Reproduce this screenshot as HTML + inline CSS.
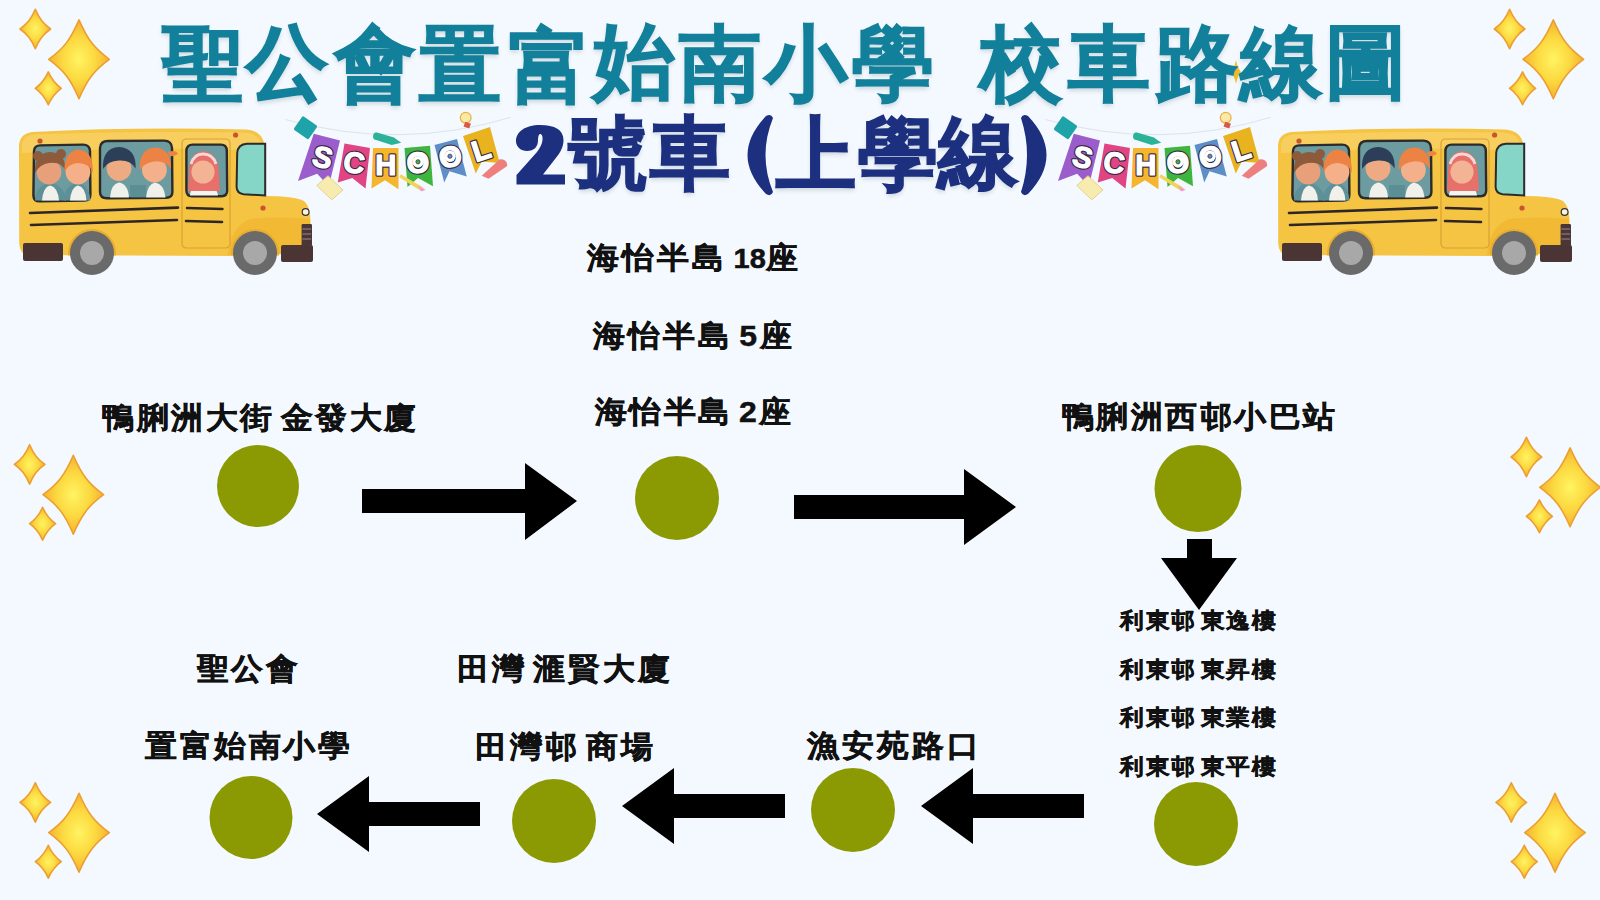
<!DOCTYPE html>
<html><head><meta charset="utf-8">
<style>
html,body{margin:0;padding:0;}
body{width:1600px;height:900px;background:#f3f9fe;position:relative;overflow:hidden;font-family:"Liberation Sans",sans-serif;}
.t{position:absolute;white-space:nowrap;font-weight:700;line-height:1;}
svg{position:absolute;left:0;top:0;}
</style></head><body>
<svg width="1600" height="900" viewBox="0 0 1600 900"><defs>
<radialGradient id="sg" cx="50%" cy="50%" r="60%">
<stop offset="0" stop-color="#fff462"/><stop offset="0.45" stop-color="#fcd940"/><stop offset="1" stop-color="#f2a02a"/>
</radialGradient>
<clipPath id="bodyclip"><rect x="0" y="0" width="1600" height="702"/></clipPath>
<g id="spk"><path d="M0.0,0.0 C4.3,9.8 7.7,14.2 15.3,19.7 C7.7,25.2 4.3,29.5 0.0,39.4 C-4.3,29.5 -7.7,25.2 -15.3,19.7 C-7.7,14.2 -4.3,9.8 0.0,0.0Z" fill="url(#sg)" stroke="#ec9f30" stroke-width="1.6" stroke-linejoin="round"/><path d="M43.7,10.6 C52.2,30.3 58.9,39.0 74.0,50.0 C58.9,61.0 52.2,69.7 43.7,89.4 C35.2,69.7 28.6,61.0 13.4,50.0 C28.6,39.0 35.2,30.3 43.7,10.6Z" fill="url(#sg)" stroke="#ec9f30" stroke-width="1.6" stroke-linejoin="round"/><path d="M13.0,62.6 C16.6,70.8 19.5,74.4 26.0,79.0 C19.5,83.6 16.6,87.2 13.0,95.4 C9.4,87.2 6.5,83.6 0.0,79.0 C6.5,74.4 9.4,70.8 13.0,62.6Z" fill="url(#sg)" stroke="#ec9f30" stroke-width="1.6" stroke-linejoin="round"/></g>
<g id="bus"><path d="M45,170 Q40,95 110,85 Q600,60 1180,72 Q1262,78 1272,150 L1275,405 Q1420,405 1470,430 Q1500,455 1502,520 L1505,690 L1100,705 L90,700 Q48,695 46,640 Z" fill="#f5c443"/>
<path d="M60,160 Q58,105 120,98 Q600,78 1170,88 Q1240,92 1255,140 L1255,180 Q700,150 60,190 Z" fill="#f9d46a" opacity="0.7"/>
<path d="M1090,700 Q1100,560 1200,520 Q1350,505 1500,520 L1505,690 Z" fill="#f2b935"/>
<rect x="860" y="120" width="240" height="545" rx="22" fill="none" stroke="#d9a233" stroke-width="6"/>
<path d="M120,180 Q122,152 152,152 L365,148 Q398,148 400,180 L402,398 Q402,428 372,428 L148,432 Q118,432 117,402 Z" fill="#6c9ba0" stroke="#2c2a2a" stroke-width="12"/>
<path d="M450,165 Q452,130 490,130 L770,128 Q808,128 810,165 L812,385 Q812,414 780,414 L485,416 Q450,416 450,385 Z" fill="#6c9ba0" stroke="#2c2a2a" stroke-width="12"/>
<path d="M882,178 Q884,148 914,148 L1055,148 Q1083,148 1084,178 L1086,378 Q1086,406 1058,406 L910,406 Q882,406 882,378 Z" fill="#6c9ba0" stroke="#2c2a2a" stroke-width="12"/>
<path d="M1136,190 Q1140,146 1185,144 L1276,144 L1276,402 L1168,396 Q1134,392 1133,360 Z" fill="#86d6c8" stroke="#2c2a2a" stroke-width="10"/>
<!-- kids window 1 -->
<path d="M125,428 Q128,350 200,340 Q272,350 280,428 Z" fill="#5e9098"/><path d="M160,428 Q165,360 200,352 Q240,360 245,428 Z" fill="#f1f1ec"/>
<circle cx="195" cy="285" r="62" fill="#e8a07a"/>
<path d="M125,290 Q120,190 200,185 Q280,190 275,275 Q255,230 195,240 Q150,245 125,290Z" fill="#8e5a3c"/>
<circle cx="140" cy="205" r="25" fill="#8e5a3c"/><circle cx="255" cy="195" r="25" fill="#8e5a3c"/>
<path d="M268,428 Q272,350 340,340 Q398,350 402,428 Z" fill="#5e9098"/><path d="M300,428 Q305,360 340,352 Q378,360 382,428 Z" fill="#f1f1ec"/>
<circle cx="340" cy="285" r="62" fill="#f5b08a"/>
<path d="M272,285 Q270,178 345,172 Q418,178 414,290 Q395,238 335,240 Q292,245 272,285Z" fill="#ec8344"/>
<!-- window 2 -->
<path d="M500,412 Q505,345 545,338 Q590,345 595,412 Z" fill="#f1f1ec"/>
<path d="M600,412 L600,350 L680,350 L680,412Z" fill="#5b8f95"/>
<circle cx="545" cy="268" r="62" fill="#eeaa82"/>
<path d="M465,270 Q460,165 545,160 Q632,165 628,268 Q605,225 545,228 Q490,230 465,270Z" fill="#2d3e58"/>
<path d="M680,412 Q688,345 725,338 Q770,345 778,412 Z" fill="#f1f1ec"/>
<circle cx="722" cy="275" r="62" fill="#f3b08a"/>
<path d="M648,275 Q645,168 725,162 Q808,168 805,270 Q780,228 722,232 Q672,238 648,275Z" fill="#ec8344"/>
<path d="M790,185 Q830,170 840,195 Q815,210 795,205Z" fill="#ec8344"/>
<!-- door window kid -->
<path d="M900,402 Q905,345 965,340 Q1030,345 1040,402 Z" fill="#f4f4f0"/>
<path d="M895,300 Q890,190 965,180 Q1045,188 1045,300 L1050,380 L890,380Z" fill="#e7706a"/>
<circle cx="965" cy="285" r="58" fill="#f3b395"/>
<path d="M905,245 Q920,195 965,195 Q1015,195 1030,245" fill="none" stroke="#f4d8d8" stroke-width="14"/>
<!-- stripes -->
<path d="M100,490 L840,463" stroke="#2e2626" stroke-width="13" stroke-linecap="round"/>
<path d="M105,550 L835,525" stroke="#2e2626" stroke-width="13" stroke-linecap="round"/>
<path d="M885,465 L1062,470" stroke="#2e2626" stroke-width="13" stroke-linecap="round"/>
<path d="M880,530 L1060,535" stroke="#2e2626" stroke-width="13" stroke-linecap="round"/>
<!-- lights -->
<circle cx="150" cy="130" r="13" fill="#c8552e"/>
<circle cx="1128" cy="100" r="13" fill="#c8552e"/>
<circle cx="1265" cy="465" r="13" fill="#c8552e"/>
<circle cx="1478" cy="485" r="17" fill="#f6f3e0" stroke="#3a3030" stroke-width="6"/>
<!-- grille -->
<rect x="1458" y="545" width="52" height="108" rx="6" fill="#4a3636"/>
<path d="M1462,570 H1506 M1462,595 H1506 M1462,620 H1506" stroke="#9a8a8a" stroke-width="5"/>
<!-- wheels -->
<g clip-path="url(#bodyclip)"><circle cx="410" cy="690" r="120" fill="#e6ad30"/>
<circle cx="1225" cy="690" r="120" fill="#e6ad30"/></g>
<circle cx="410" cy="690" r="110" fill="#6a6a6a"/>
<circle cx="410" cy="690" r="60" fill="#a8a8a8"/>
<circle cx="1225" cy="690" r="110" fill="#6a6a6a"/>
<circle cx="1225" cy="690" r="60" fill="#a8a8a8"/>
<!-- bumpers -->
<rect x="65" y="640" width="200" height="90" rx="10" fill="#4a3434"/>
<rect x="1355" y="650" width="160" height="85" rx="10" fill="#4a3434"/>
</g>
<g id="ban"><path d="M35,130 Q800,340 1540,115" fill="none" stroke="#c0c6ce" stroke-width="3"/>
<path d="M225,225 L400,270 L325,575 L248,492 L120,540 Z" fill="#9b5ccc"/>
<path d="M430,290 L600,320 L570,590 L482,520 L385,550 Z" fill="#e04482"/>
<path d="M620,320 L790,320 L790,595 L700,535 L610,590 Z" fill="#f5b52c"/>
<path d="M830,320 L1000,305 L1020,575 L920,520 L850,580 Z" fill="#3db53e"/>
<path d="M1030,300 L1180,260 L1245,510 L1130,475 L1095,550 Z" fill="#5d8ec8"/>
<path d="M1220,240 L1400,180 L1465,420 L1345,410 L1305,490 Z" fill="#e9b21f"/>
<g font-family="Liberation Sans, sans-serif" font-weight="700" font-size="195" fill="#3a2a48" stroke="#3a2a48" stroke-width="24" stroke-linejoin="round" text-anchor="middle"><text x="285" y="450" transform="rotate(14 285 380)">S</text><text x="495" y="485" transform="rotate(8 495 415)">C</text><text x="705" y="500">H</text><text x="920" y="485" transform="rotate(-4 920 415)">O</text><text x="1135" y="445" transform="rotate(-14 1135 375)">O</text><text x="1340" y="400" transform="rotate(-18 1340 330)">L</text></g><g font-family="Liberation Sans, sans-serif" font-weight="700" font-size="195" fill="#fff" stroke="#fff" stroke-width="8" stroke-linejoin="round" text-anchor="middle"><text x="285" y="450" transform="rotate(14 285 380)">S</text><text x="495" y="485" transform="rotate(8 495 415)">C</text><text x="705" y="500">H</text><text x="920" y="485" transform="rotate(-4 920 415)">O</text><text x="1135" y="445" transform="rotate(-14 1135 375)">O</text><text x="1340" y="400" transform="rotate(-18 1340 330)">L</text></g>
<circle cx="920" cy="412" r="38" fill="#fff"/><circle cx="920" cy="412" r="14" fill="#3db53e" stroke="#3a2a48" stroke-width="5"/><circle cx="1133" cy="375" r="38" fill="#fff"/><circle cx="1133" cy="375" r="14" fill="#5d8ec8" stroke="#3a2a48" stroke-width="5"/><rect x="110" y="130" width="120" height="110" rx="10" fill="#1ea3a8" transform="rotate(35 170 185)"/>
<path d="M640,215 L760,250 L808,285 L745,300 L625,262 Q610,225 640,215 Z" fill="#2bb39a"/>
<path d="M1345,505 L1465,395 Q1515,390 1515,440 L1390,525 Z" fill="#ee7f7f"/>
<circle cx="1238" cy="118" r="36" fill="#fbe9a8" stroke="#eab040" stroke-width="8"/>
<rect x="1228" y="150" width="40" height="35" fill="#d9584a" transform="rotate(20 1248 168)"/>
<path d="M245,570 L320,505 L420,600 L345,665 Z" fill="#f7ebb0" stroke="#e0cf80" stroke-width="6"/>
<path d="M805,495 L940,575 L970,600 L930,600 L795,515 Z" fill="#f2d35c"/>
<path d="M920,570 L970,600 L940,610 Z" fill="#f39ad0"/>
</g>
</defs><use href="#spk" x="35.3" y="9.3"/><use href="#spk" x="1509.6" y="9.3"/><use href="#spk" x="29.6" y="444.7"/><use href="#spk" x="1526.4" y="437.3"/><use href="#spk" x="35.3" y="782.7"/><use href="#spk" x="1511.3" y="782.7"/><path d="M1236.0,60.0 C1237.4,66.0 1238.5,68.6 1241.0,72.0 C1238.5,75.4 1237.4,78.0 1236.0,84.0 C1234.6,78.0 1233.5,75.4 1231.0,72.0 C1233.5,68.6 1234.6,66.0 1236.0,60.0Z" fill="#f0c030"/><g transform="translate(10,115) scale(0.2)"><use href="#bus"/></g><g transform="translate(1269,115) scale(0.2)"><use href="#bus"/></g><g transform="translate(280,100) scale(0.15)"><use href="#ban"/></g><g transform="translate(1040,100) scale(0.15)"><use href="#ban"/></g></svg>
<svg width="1600" height="900" viewBox="0 0 1600 900"><g fill="#000">
<polygon points="362,489 525,489 525,463 577,501 525,540 525,513 362,513"/>
<polygon points="794,495 964,495 964,469 1016,507 964,545 964,519 794,519"/>
<polygon points="1187,539 1212,539 1212,558 1237,558 1199,610 1161,558 1187,558"/>
<polygon points="1084,794 973,794 973,768 921,806 973,844 973,818 1084,818"/>
<polygon points="785,794 674,794 674,768 622,806 674,844 674,818 785,818"/>
<polygon points="480,802 369,802 369,776 317,814 369,852 369,826 480,826"/>
</g><g fill="#8b9a03">
<circle cx="258" cy="486" r="41"/><circle cx="677" cy="498" r="42"/><circle cx="1198" cy="488.5" r="43.5"/>
<circle cx="1196" cy="824" r="42"/><circle cx="853" cy="810" r="42"/><circle cx="554" cy="821" r="42"/><circle cx="251" cy="817.5" r="41.5"/>
</g>
<g fill="#1d307f">
<path d="M773,118 Q771,113 766,116 Q729,155 766,194 Q771,197 773,192 Q758,155 773,118 Z"/>
<path d="M1021,118 Q1023,113 1028,116 Q1065,155 1028,194 Q1023,197 1021,192 Q1033,155 1021,118 Z"/>
<path transform="translate(505,110) scale(0.1)" d="M115,745 L600,745 L600,645 L380,645 L520,465 C570,400 585,350 585,300 C585,200 500,150 350,150 C200,150 110,220 110,310 C110,370 160,410 220,410 C290,410 330,370 330,300 C330,260 340,240 350,240 C370,240 378,265 375,300 C372,340 350,380 320,420 L115,650 Z"/>
</g></svg>
<div class="t" style="left:587.4px;top:241.9px;font-size:32px;color:#111;letter-spacing:3px;-webkit-text-stroke:0.5px #111;transform:scaleY(0.94);">海怡半島<span style="letter-spacing:0;font-size:22px">&#32;</span><span style="letter-spacing:0;font-size:29px">18</span>座</div>
<div class="t" style="left:593.0px;top:319.5px;font-size:32px;color:#111;letter-spacing:3px;-webkit-text-stroke:0.5px #111;transform:scaleY(0.94);">海怡半島<span style="letter-spacing:0;font-size:22px">&#32;</span>5座</div>
<div class="t" style="left:594.8px;top:396.4px;font-size:32px;color:#111;letter-spacing:2.5px;-webkit-text-stroke:0.5px #111;transform:scaleY(0.94);">海怡半島<span style="letter-spacing:0;font-size:22px">&#32;</span>2座</div>
<div class="t" style="left:102.0px;top:402.2px;font-size:32px;color:#111;letter-spacing:2.5px;-webkit-text-stroke:0.5px #111;transform:scaleY(0.94);">鴨脷洲大街<span style="letter-spacing:0;font-size:22px">&#32;</span>金發大廈</div>
<div class="t" style="left:1061.6px;top:401.0px;font-size:32px;color:#111;letter-spacing:2.5px;-webkit-text-stroke:0.5px #111;transform:scaleY(0.94);">鴨脷洲西邨小巴站</div>
<div class="t" style="left:1120.3px;top:609.9px;font-size:23.5px;color:#111;letter-spacing:1.5px;-webkit-text-stroke:0.5px #111;transform:scaleY(0.93);">利東邨<span style="letter-spacing:0;font-size:15px">&#32;</span>東逸樓</div>
<div class="t" style="left:1120.3px;top:658.5px;font-size:23.5px;color:#111;letter-spacing:1.5px;-webkit-text-stroke:0.5px #111;transform:scaleY(0.93);">利東邨<span style="letter-spacing:0;font-size:15px">&#32;</span>東昇樓</div>
<div class="t" style="left:1120.3px;top:707.4px;font-size:23.5px;color:#111;letter-spacing:1.5px;-webkit-text-stroke:0.5px #111;transform:scaleY(0.93);">利東邨<span style="letter-spacing:0;font-size:15px">&#32;</span>東業樓</div>
<div class="t" style="left:1120.3px;top:756.2px;font-size:23.5px;color:#111;letter-spacing:1.5px;-webkit-text-stroke:0.5px #111;transform:scaleY(0.93);">利東邨<span style="letter-spacing:0;font-size:15px">&#32;</span>東平樓</div>
<div class="t" style="left:196.8px;top:652.9px;font-size:32px;color:#111;letter-spacing:2.5px;-webkit-text-stroke:0.5px #111;transform:scaleY(0.94);">聖公會</div>
<div class="t" style="left:145.2px;top:730.4px;font-size:32px;color:#111;letter-spacing:2.5px;-webkit-text-stroke:0.5px #111;transform:scaleY(0.94);">置富始南小學</div>
<div class="t" style="left:457.0px;top:653.0px;font-size:32px;color:#111;letter-spacing:3px;-webkit-text-stroke:0.5px #111;transform:scaleY(0.94);">田灣<span style="letter-spacing:0;font-size:22px">&#32;</span>滙賢大廈</div>
<div class="t" style="left:474.9px;top:730.5px;font-size:32px;color:#111;letter-spacing:3px;-webkit-text-stroke:0.5px #111;transform:scaleY(0.94);">田灣邨<span style="letter-spacing:0;font-size:22px">&#32;</span>商場</div>
<div class="t" style="left:806.6px;top:729.7px;font-size:32px;color:#111;letter-spacing:3px;-webkit-text-stroke:0.5px #111;transform:scaleY(0.94);">漁安苑路口</div>
<div class="t" style="left:161.8px;top:24.0px;font-size:82px;color:#12809a;-webkit-text-stroke:1.4px #12809a;text-shadow:0 3px 4px rgba(40,60,80,0.18);">聖</div>
<div class="t" style="left:246.2px;top:21.5px;font-size:82px;color:#12809a;-webkit-text-stroke:1.4px #12809a;text-shadow:0 3px 4px rgba(40,60,80,0.18);">公</div>
<div class="t" style="left:333.8px;top:22.5px;font-size:82px;color:#12809a;-webkit-text-stroke:1.4px #12809a;text-shadow:0 3px 4px rgba(40,60,80,0.18);">會</div>
<div class="t" style="left:419.4px;top:24.0px;font-size:82px;color:#12809a;-webkit-text-stroke:1.4px #12809a;text-shadow:0 3px 4px rgba(40,60,80,0.18);">置</div>
<div class="t" style="left:508.7px;top:25.5px;font-size:82px;color:#12809a;-webkit-text-stroke:1.4px #12809a;text-shadow:0 3px 4px rgba(40,60,80,0.18);">富</div>
<div class="t" style="left:592.7px;top:21.0px;font-size:82px;color:#12809a;-webkit-text-stroke:1.4px #12809a;text-shadow:0 3px 4px rgba(40,60,80,0.18);">始</div>
<div class="t" style="left:679.4px;top:23.0px;font-size:82px;color:#12809a;-webkit-text-stroke:1.4px #12809a;text-shadow:0 3px 4px rgba(40,60,80,0.18);">南</div>
<div class="t" style="left:764.5px;top:22.5px;font-size:82px;color:#12809a;-webkit-text-stroke:1.4px #12809a;text-shadow:0 3px 4px rgba(40,60,80,0.18);">小</div>
<div class="t" style="left:851.6px;top:23.0px;font-size:82px;color:#12809a;-webkit-text-stroke:1.4px #12809a;text-shadow:0 3px 4px rgba(40,60,80,0.18);">學</div>
<div class="t" style="left:979.5px;top:22.5px;font-size:82px;color:#12809a;-webkit-text-stroke:1.4px #12809a;text-shadow:0 3px 4px rgba(40,60,80,0.18);">校</div>
<div class="t" style="left:1067.5px;top:23.0px;font-size:82px;color:#12809a;-webkit-text-stroke:1.4px #12809a;text-shadow:0 3px 4px rgba(40,60,80,0.18);">車</div>
<div class="t" style="left:1155.5px;top:22.5px;font-size:82px;color:#12809a;-webkit-text-stroke:1.4px #12809a;text-shadow:0 3px 4px rgba(40,60,80,0.18);">路</div>
<div class="t" style="left:1240.1px;top:22.5px;font-size:82px;color:#12809a;-webkit-text-stroke:1.4px #12809a;text-shadow:0 3px 4px rgba(40,60,80,0.18);">線</div>
<div class="t" style="left:1324.9px;top:21.0px;font-size:82px;color:#12809a;-webkit-text-stroke:1.4px #12809a;text-shadow:0 3px 4px rgba(40,60,80,0.18);">圖</div>
<div class="t" style="left:568.4px;top:114.1px;font-size:80px;color:#1d307f;-webkit-text-stroke:1.6px #1d307f;text-shadow:0 3px 4px rgba(40,60,80,0.18);">號</div>
<div class="t" style="left:650.1px;top:114.1px;font-size:80px;color:#1d307f;-webkit-text-stroke:1.6px #1d307f;text-shadow:0 3px 4px rgba(40,60,80,0.18);">車</div>
<div class="t" style="left:775.6px;top:115.4px;font-size:80px;color:#1d307f;-webkit-text-stroke:1.6px #1d307f;text-shadow:0 3px 4px rgba(40,60,80,0.18);">上</div>
<div class="t" style="left:857.5px;top:114.6px;font-size:80px;color:#1d307f;-webkit-text-stroke:1.6px #1d307f;text-shadow:0 3px 4px rgba(40,60,80,0.18);">學</div>
<div class="t" style="left:938.2px;top:113.2px;font-size:80px;color:#1d307f;-webkit-text-stroke:1.6px #1d307f;text-shadow:0 3px 4px rgba(40,60,80,0.18);">線</div>

</body></html>
